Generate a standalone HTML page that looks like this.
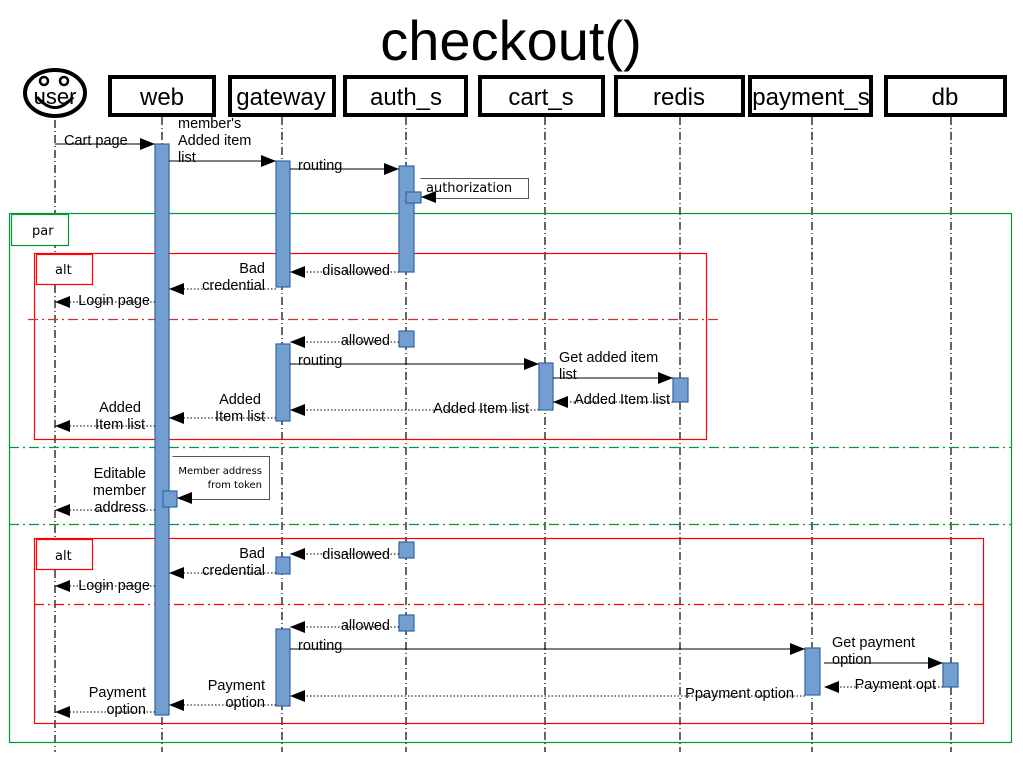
<!DOCTYPE html>
<html><head><meta charset="utf-8"><style>
html,body{margin:0;padding:0;background:#fff;}
svg{display:block;font-family:"Liberation Sans",sans-serif;}
text{font-family:"Liberation Sans",sans-serif;}
.ll{stroke:#000;stroke-width:1.2;stroke-dasharray:8 3 1 3;}
.act{fill:#729fcf;stroke:#3465a4;stroke-width:1.2;}
.m{stroke:#000;stroke-width:1;fill:none;}
.r{stroke:#000;stroke-width:1;stroke-dasharray:1.5 2;fill:none;}
.t text{font-size:14.5px;fill:#000;}
text.c{font-family:"DejaVu Sans",sans-serif;font-size:13px;}
.hb{fill:#fff;stroke:#000;stroke-width:4;}
text.ht{font-size:24px;text-anchor:middle;}
</style></head><body>
<svg width="1023" height="765" viewBox="0 0 1023 765" xmlns="http://www.w3.org/2000/svg">
<defs>
<marker id="a" markerWidth="15" markerHeight="12" refX="15" refY="6" orient="auto" markerUnits="userSpaceOnUse"><path d="M0,0 L15,6 L0,12 Z" fill="#000"/></marker>
</defs>
<text x="511" y="60" font-size="56" text-anchor="middle">checkout()</text>

<g class="ll">
<line x1="55" y1="120" x2="55" y2="752"/><line x1="162" y1="117" x2="162" y2="752"/>
<line x1="282" y1="117" x2="282" y2="752"/><line x1="406" y1="117" x2="406" y2="752"/>
<line x1="545" y1="117" x2="545" y2="752"/><line x1="680" y1="117" x2="680" y2="752"/>
<line x1="812" y1="117" x2="812" y2="752"/><line x1="951" y1="117" x2="951" y2="752"/>
</g>

<ellipse cx="55" cy="93" rx="30" ry="23" fill="#fff" stroke="#000" stroke-width="4"/>
<path d="M37,97 Q55,118 73,97" fill="none" stroke="#000" stroke-width="3"/>
<circle cx="44" cy="81" r="4" fill="none" stroke="#000" stroke-width="2.5"/><circle cx="64" cy="81" r="4" fill="none" stroke="#000" stroke-width="2.5"/>
<text x="55" y="104" font-size="22" text-anchor="middle">user</text>
<rect class="hb" x="110" y="77" width="104" height="38"/><text class="ht" x="162" y="105">web</text>
<rect class="hb" x="230" y="77" width="104" height="38"/><text class="ht" x="281" y="105">gateway</text>
<rect class="hb" x="345" y="77" width="121" height="38"/><text class="ht" x="406" y="105">auth_s</text>
<rect class="hb" x="480" y="77" width="123" height="38"/><text class="ht" x="541" y="105">cart_s</text>
<rect class="hb" x="616" y="77" width="127" height="38"/><text class="ht" x="679" y="105">redis</text>
<rect class="hb" x="750" y="77" width="121" height="38"/><text class="ht" x="811" y="105">payment_s</text>
<rect class="hb" x="886" y="77" width="119" height="38"/><text class="ht" x="945" y="105">db</text>

<g fill="none" stroke-width="1.2">
<rect x="9.5" y="213.5" width="1002" height="529" stroke="#009933"/>
<rect x="11.5" y="214.5" width="57" height="31" fill="#fff" stroke="#009933"/>
<line x1="9" y1="447.5" x2="1011" y2="447.5" stroke="#009933" stroke-dasharray="10 4 2 4"/>
<line x1="9" y1="524.5" x2="1011" y2="524.5" stroke="#009933" stroke-dasharray="10 4 2 4"/>
<rect x="34.5" y="253.5" width="672" height="186" stroke="#ff0000"/>
<rect x="36.5" y="254.5" width="56" height="30" fill="#fff" stroke="#ff0000"/>
<line x1="28" y1="319.5" x2="722" y2="319.5" stroke="#cc3333" stroke-dasharray="10 4 2 4"/>
<rect x="34.5" y="538.5" width="949" height="185" stroke="#ff0000"/>
<rect x="36.5" y="539.5" width="56" height="30" fill="#fff" stroke="#ff0000"/>
<line x1="34" y1="604.5" x2="983" y2="604.5" stroke="#ff0000" stroke-dasharray="10 4 2 4"/>
</g>
<text class="c" x="32" y="235">par</text>
<text class="c" x="55" y="274">alt</text>
<text class="c" x="55" y="560">alt</text>

<rect class="act" x="155" y="144" width="14" height="571"/>
<rect class="act" x="276" y="161" width="14" height="126"/>
<rect class="act" x="276" y="344" width="14" height="77"/>
<rect class="act" x="276" y="557" width="14" height="17"/>
<rect class="act" x="276" y="629" width="14" height="77"/>
<rect class="act" x="399" y="166" width="15" height="106"/>
<rect class="act" x="406" y="192" width="15" height="11"/>
<rect class="act" x="399" y="331" width="15" height="16"/>
<rect class="act" x="399" y="542" width="15" height="16"/>
<rect class="act" x="399" y="615" width="15" height="16"/>
<rect class="act" x="539" y="363" width="14" height="47"/>
<rect class="act" x="673" y="378" width="15" height="24"/>
<rect class="act" x="805" y="648" width="15" height="47"/>
<rect class="act" x="943" y="663" width="15" height="24"/>
<rect class="act" x="163" y="491" width="14" height="16"/>

<path d="M420.5,178.5 H528.5 V198.5 H430" fill="#fff" stroke="#555"/>
<text class="c" x="426" y="192">authorization</text>
<path d="M172.5,456.5 H269.5 V499.5 H180" fill="#fff" stroke="#555"/>
<text class="c" x="262" y="474" style="font-size:10px" text-anchor="end">Member address</text>
<text class="c" x="262" y="488" style="font-size:10px" text-anchor="end">from token</text>

<g>
<line class="m" x1="55" y1="144" x2="155" y2="144" marker-end="url(#a)"/>
<line class="m" x1="169" y1="161" x2="276" y2="161" marker-end="url(#a)"/>
<line class="m" x1="290" y1="169" x2="399" y2="169" marker-end="url(#a)"/>
<line class="m" x1="432" y1="197" x2="421" y2="197" marker-end="url(#a)"/>
<line class="r" x1="399" y1="272" x2="290" y2="272" marker-end="url(#a)"/>
<line class="r" x1="276" y1="289" x2="169" y2="289" marker-end="url(#a)"/>
<line class="r" x1="155" y1="302" x2="55" y2="302" marker-end="url(#a)"/>
<line class="r" x1="399" y1="342" x2="290" y2="342" marker-end="url(#a)"/>
<line class="m" x1="290" y1="364" x2="539" y2="364" marker-end="url(#a)"/>
<line class="m" x1="553" y1="378" x2="673" y2="378" marker-end="url(#a)"/>
<line class="r" x1="673" y1="402" x2="553" y2="402" marker-end="url(#a)"/>
<line class="r" x1="539" y1="410" x2="290" y2="410" marker-end="url(#a)"/>
<line class="r" x1="276" y1="418" x2="169" y2="418" marker-end="url(#a)"/>
<line class="r" x1="155" y1="426" x2="55" y2="426" marker-end="url(#a)"/>
<line class="m" x1="188" y1="498" x2="177" y2="498" marker-end="url(#a)"/>
<line class="r" x1="155" y1="510" x2="55" y2="510" marker-end="url(#a)"/>
<line class="r" x1="399" y1="554" x2="290" y2="554" marker-end="url(#a)"/>
<line class="r" x1="276" y1="573" x2="169" y2="573" marker-end="url(#a)"/>
<line class="r" x1="155" y1="586" x2="55" y2="586" marker-end="url(#a)"/>
<line class="r" x1="399" y1="627" x2="290" y2="627" marker-end="url(#a)"/>
<line class="m" x1="290" y1="649" x2="805" y2="649" marker-end="url(#a)"/>
<line class="m" x1="824" y1="663" x2="943" y2="663" marker-end="url(#a)"/>
<line class="r" x1="943" y1="687" x2="824" y2="687" marker-end="url(#a)"/>
<line class="r" x1="805" y1="696" x2="290" y2="696" marker-end="url(#a)"/>
<line class="r" x1="276" y1="705" x2="169" y2="705" marker-end="url(#a)"/>
<line class="r" x1="155" y1="712" x2="55" y2="712" marker-end="url(#a)"/>
</g>

<g class="t">
<text x="64" y="145">Cart page</text>
<text x="178" y="128">member's</text><text x="178" y="145">Added item</text><text x="178" y="162">list</text>
<text x="298" y="170">routing</text>
<text x="390" y="275" text-anchor="end">disallowed</text>
<text x="265" y="273" text-anchor="end">Bad</text><text x="265" y="290" text-anchor="end">credential</text>
<text x="150" y="305" text-anchor="end">Login page</text>
<text x="390" y="345" text-anchor="end">allowed</text>
<text x="298" y="365">routing</text>
<text x="559" y="362">Get added item</text><text x="559" y="379">list</text>
<text x="670" y="404" text-anchor="end">Added Item list</text>
<text x="529" y="413" text-anchor="end">Added Item list</text>
<text x="261" y="404" text-anchor="end">Added</text><text x="265" y="421" text-anchor="end">Item list</text>
<text x="141" y="412" text-anchor="end">Added</text><text x="145" y="429" text-anchor="end">Item list</text>
<text x="146" y="478" text-anchor="end">Editable</text><text x="146" y="495" text-anchor="end">member</text><text x="146" y="512" text-anchor="end">address</text>
<text x="390" y="559" text-anchor="end">disallowed</text>
<text x="265" y="558" text-anchor="end">Bad</text><text x="265" y="575" text-anchor="end">credential</text>
<text x="150" y="590" text-anchor="end">Login page</text>
<text x="390" y="630" text-anchor="end">allowed</text>
<text x="298" y="650">routing</text>
<text x="832" y="647">Get  payment</text><text x="832" y="664">option</text>
<text x="936" y="689" text-anchor="end">Payment opt</text>
<text x="794" y="698" text-anchor="end">Ppayment option</text>
<text x="265" y="690" text-anchor="end">Payment</text><text x="265" y="707" text-anchor="end">option</text>
<text x="146" y="697" text-anchor="end">Payment</text><text x="146" y="714" text-anchor="end">option</text>
</g>
</svg>
</body></html>
